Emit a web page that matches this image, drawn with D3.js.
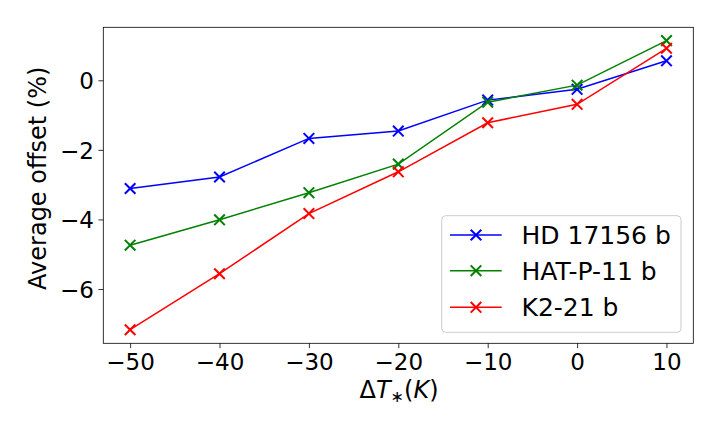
<!DOCTYPE html>
<html>
<head>
<meta charset="utf-8">
<script src="https://cdn.jsdelivr.net/npm/d3@7/dist/d3.min.js"></script>
<style>
  html, body { margin: 0; padding: 0; background: #fff; }
  svg { display: block; font-family: "DejaVu Sans", sans-serif; }
</style>
</head>
<body>
<svg id="chart" width="720" height="432"></svg>
<script>
const deltaT = [-50, -40, -30, -20, -10, 0, 10];
const hd17156 = [-3.11, -2.78, -1.67, -1.46, -0.57, -0.26, 0.56];
const hatp11 = [-4.74, -4.01, -3.23, -2.41, -0.63, -0.14, 1.14];
const k221 = [-7.17, -5.56, -3.83, -2.63, -1.22, -0.69, 0.92];
const seriesNames = ["HD 17156 b", "HAT-P-11 b", "K2-21 b"];
const seriesColors = ["#0000ff", "#008000", "#ff0000"];
const xTicks = [-50, -40, -30, -20, -10, 0, 10];
const yTicks = [-6, -4, -2, 0];

const series = [hd17156, hatp11, k221].map((vals, i) => ({
  name: seriesNames[i], color: seriesColors[i],
  points: deltaT.map((x, j) => ({x, y: vals[j]}))
}));

const svg = d3.select("#chart");
const L = 103.3, R = 693.3, T = 27.3, B = 343.3;

const x = d3.scaleLinear().domain([-53, 13]).range([L, R]);
const y = d3.scaleLinear().domain([-7.56, 1.523]).range([B, T]);

const fmt = d => (d < 0 ? "\u2212" + Math.abs(d) : String(d));

// axes
const xAxis = svg.append("g").attr("transform", `translate(0,${B})`)
  .call(d3.axisBottom(x).tickValues(xTicks).tickFormat(fmt).tickSize(4.9).tickPadding(4.5));
const yAxis = svg.append("g").attr("transform", `translate(${L},0)`)
  .call(d3.axisLeft(y).tickValues(yTicks).tickFormat(fmt).tickSize(4.9).tickPadding(4.5));
[xAxis, yAxis].forEach(g => {
  g.select(".domain").remove();
  g.selectAll(".tick line").attr("stroke", "#000").attr("stroke-width", 0.8);
  g.selectAll(".tick text").attr("fill", "#000").style("font-size", "23px")
    .style("font-family", "DejaVu Sans, sans-serif");
});
xAxis.selectAll(".tick text").attr("dy", "0.76em");
yAxis.selectAll(".tick text").attr("dy", "0.36em");

// lines
const line = d3.line().x(d => x(d.x)).y(d => y(d.y));
const ms = 5.3;
function xMarker(g, cx, cy, color) {
  g.append("path")
    .attr("d", `M${cx-ms},${cy-ms}L${cx+ms},${cy+ms}M${cx-ms},${cy+ms}L${cx+ms},${cy-ms}`)
    .attr("stroke", color).attr("stroke-width", 2).attr("fill", "none");
}
series.forEach(s => {
  const g = svg.append("g");
  g.append("path").datum(s.points).attr("d", line)
    .attr("fill", "none").attr("stroke", s.color).attr("stroke-width", 1.5);
  s.points.forEach(p => xMarker(g, x(p.x), y(p.y), s.color));
});

// frame
svg.append("rect").attr("x", L).attr("y", T).attr("width", R - L).attr("height", B - T)
  .attr("fill", "none").attr("stroke", "#000").attr("stroke-width", 0.8);

// legend
const lg = svg.append("g");
lg.append("rect").attr("x", 441.7).attr("y", 215.7).attr("width", 239.3).attr("height", 116.6)
  .attr("rx", 4).attr("fill", "#fff").attr("fill-opacity", 0.8)
  .attr("stroke", "#cccccc").attr("stroke-width", 1);
const rowY = [235, 270.7, 307.3];
series.forEach((s, i) => {
  const yy = rowY[i];
  lg.append("line").attr("x1", 450).attr("x2", 501.7).attr("y1", yy).attr("y2", yy)
    .attr("stroke", s.color).attr("stroke-width", 1.5);
  xMarker(lg, 476, yy, s.color);
  lg.append("text").attr("x", 521.5).attr("y", yy).attr("dy", "0.36em")
    .style("font-size", "25px").attr("fill", "#000").text(s.name);
});

// axis labels
svg.append("text").attr("transform", "translate(45.5,178.3) rotate(-90)")
  .attr("text-anchor", "middle").style("font-size", "24px").attr("fill", "#000")
  .text("Average offset (%)");

const xl = svg.append("text").attr("x", 399).attr("y", 398)
  .attr("text-anchor", "middle").style("font-size", "24px").attr("fill", "#000");
xl.append("tspan").text("\u0394");
xl.append("tspan").style("font-style", "italic").text("T");
xl.append("tspan").style("font-size", "16px").attr("dy", "4").text("\u2217");
xl.append("tspan").attr("dy", "-4").text("(");
xl.append("tspan").style("font-style", "italic").text("K");
xl.append("tspan").text(")");
</script>
</body>
</html>
